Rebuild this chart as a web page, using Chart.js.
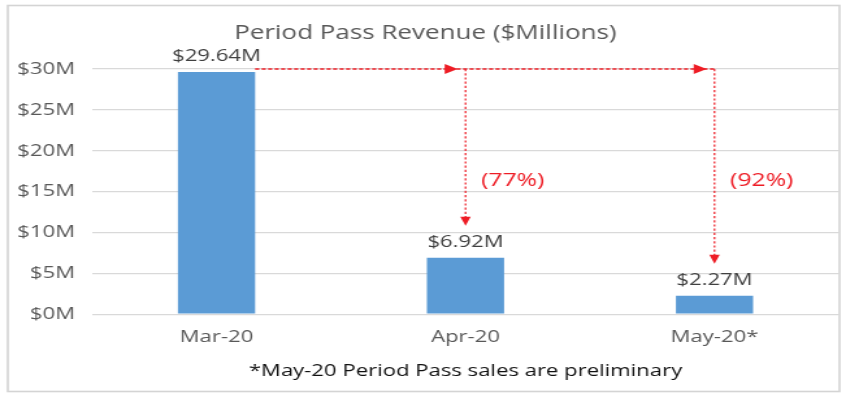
<!DOCTYPE html>
<html>
<head>
<meta charset="utf-8">
<script src="https://cdn.jsdelivr.net/npm/chart.js@4/dist/chart.umd.min.js"></script>
<style>
  html, body { margin: 0; padding: 0; background: #fff; overflow: hidden; }
  #wrap { width: 651px; height: 399px; transform: scaleX(1.29954); transform-origin: 0 0; }
  canvas { display: block; }
</style>
</head>
<body>
<div id="wrap"><canvas id="c" width="651" height="399"></canvas></div>
<script>
// ---- data ----
const categories = ['Mar-20', 'Apr-20', 'May-20*'];
const revenue = [29.64, 6.92, 2.27];            // $ millions
const valueLabels = ['$29.64M', '$6.92M', '$2.27M'];
const yTicks = [0, 5, 10, 15, 20, 25, 30];
const chartTitle = 'Period Pass Revenue ($Millions)';
const footnote = '*May-20 Period Pass sales are preliminary';

const FONT = "'Open Sans', sans-serif";
const RED = '#ee1c25';

const framePlugin = {
  id: 'frame',
  beforeDraw(chart) {
    const ctx = chart.ctx;
    ctx.save();
    ctx.fillStyle = '#fff';
    ctx.fillRect(0, 0, chart.width, chart.height);
    ctx.strokeStyle = '#d4d4d4';
    ctx.lineWidth = 1.6;
    ctx.strokeRect(6, 5.5, 640, 386);
    ctx.restore();
  }
};

const labelPlugin = {
  id: 'valueLabels',
  afterDatasetsDraw(chart) {
    const ctx = chart.ctx;
    const meta = chart.getDatasetMeta(0);
    ctx.save();
    ctx.font = '17px ' + FONT;
    ctx.fillStyle = '#404040';
    ctx.textAlign = 'center';
    ctx.textBaseline = 'alphabetic';
    meta.data.forEach((bar, i) => {
      ctx.fillText(valueLabels[i], bar.x, bar.y - 11);
    });
    ctx.restore();
  }
};

const arrowPlugin = {
  id: 'dropArrows',
  afterDatasetsDraw(chart) {
    const ctx = chart.ctx;
    const y = chart.scales.y;
    const area = chart.chartArea;
    const bars = chart.getDatasetMeta(0).data;
    const yTop = y.getPixelForValue(y.max);
    const first = bars[0];
    const last = bars[bars.length - 1];
    ctx.save();
    ctx.strokeStyle = RED;
    ctx.fillStyle = RED;
    ctx.lineWidth = 1.4;
    ctx.setLineDash([3.2, 1.8]);
    ctx.beginPath();
    ctx.moveTo(first.x + first.width / 2, yTop);
    ctx.lineTo(last.x, yTop);
    ctx.stroke();
    for (let i = 1; i < bars.length; i++) {
      const b = bars[i];
      ctx.setLineDash([]);
      const tip = b.x - 6;
      ctx.beginPath();
      ctx.moveTo(tip, yTop);
      ctx.lineTo(tip - 10, yTop - 5);
      ctx.lineTo(tip - 10, yTop + 5);
      ctx.closePath();
      ctx.fill();
      const yTip = b.y - 32;
      ctx.lineWidth = 1.2;
      ctx.setLineDash([2.2, 2]);
      ctx.beginPath();
      ctx.moveTo(b.x, yTop);
      ctx.lineTo(b.x, yTip - 8);
      ctx.stroke();
      ctx.setLineDash([]);
      ctx.beginPath();
      ctx.moveTo(b.x, yTip);
      ctx.lineTo(b.x - 4, yTip - 9);
      ctx.lineTo(b.x + 4, yTip - 9);
      ctx.closePath();
      ctx.fill();
      const pct = Math.round((1 - revenue[i] / revenue[0]) * 100);
      ctx.font = '19px ' + FONT;
      ctx.textAlign = 'left';
      ctx.textBaseline = 'middle';
      ctx.fillText('(' + pct + '%)', b.x + 12, area.top + (area.bottom - area.top) * 0.455);
      ctx.lineWidth = 1.4;
      ctx.setLineDash([3.2, 1.8]);
    }
    ctx.restore();
  }
};

new Chart(document.getElementById('c'), {
  type: 'bar',
  data: {
    labels: categories,
    datasets: [{
      data: revenue,
      backgroundColor: '#5b9bd5',
      borderWidth: 0,
      barPercentage: 0.31,
      categoryPercentage: 1.0
    }]
  },
  options: {
    responsive: false,
    animation: false,
    devicePixelRatio: 1,
    layout: { padding: { left: 9, right: 5.4, top: 0, bottom: 18 } },
    plugins: {
      legend: { display: false },
      tooltip: { enabled: false },
      title: {
        display: true,
        text: chartTitle,
        color: '#595959',
        font: { family: FONT, size: 20, weight: 'normal' },
        padding: { top: 21, bottom: 24 }
      }
    },
    scales: {
      x: {
        grid: { display: false, drawTicks: false },
        border: { display: false },
        ticks: { color: '#595959', font: { family: FONT, size: 17 }, padding: 13 },
        title: {
          display: true,
          text: footnote,
          color: '#111',
          font: { family: FONT, size: 17 },
          padding: { top: 0, bottom: 0 }
        }
      },
      y: {
        min: 0,
        max: yTicks[yTicks.length - 1],
        afterBuildTicks(scale) { scale.ticks = yTicks.map(v => ({ value: v })); },
        afterFit(scale) { scale.width = 61.8; },
        grid: { color: '#d9d9d9', lineWidth: 1.2, drawTicks: false },
        border: { display: false },
        ticks: {
          color: '#595959',
          font: { family: FONT, size: 17 },
          padding: 13,
          callback: v => '$' + v + 'M'
        }
      }
    }
  },
  plugins: [framePlugin, labelPlugin, arrowPlugin]
});
</script>
</body>
</html>
